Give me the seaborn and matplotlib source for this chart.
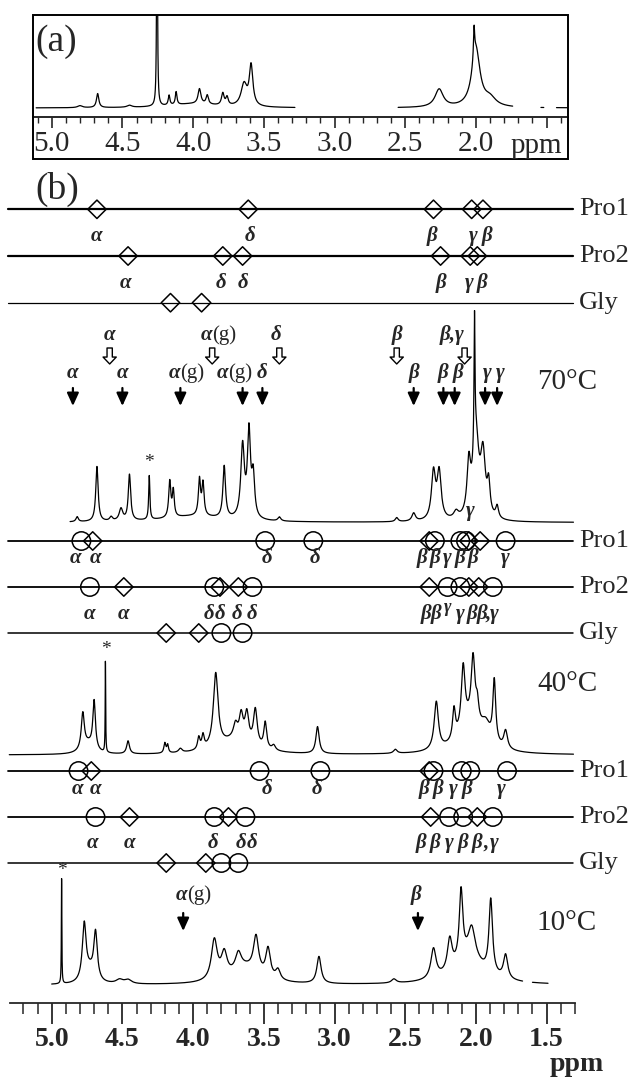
import numpy as np
import pandas as pd
import matplotlib
matplotlib.use("Agg")
import matplotlib.pyplot as plt
from matplotlib.patches import Rectangle
from matplotlib.ticker import FixedLocator, FixedFormatter, NullFormatter
import seaborn as sns

# peak tables: (ppm, height in px above baseline, half width in ppm)
peaks_a = [(4.80, 2, .02), (4.675, 14, .01), (4.45, 2, .02), (4.255, 300, .003),
           (4.17, 10, .007), (4.12, 13, .007), (4.0, 4, .2), (3.955, 15, .012),
           (3.90, 9, .01), (3.79, 12, .011), (3.76, 8, .01), (3.64, 22, .025),
           (3.59, 40, .015), (2.26, 18, .035), (2.00, 58, .035), (2.013, 30, .005),
           (1.90, 8, .05)]
peaks_70 = [(4.82, 5, .01), (4.68, 55, .010), (4.58, 4, .012), (4.51, 12, .015),
            (4.45, 46, .010), (4.31, 44, .005), (4.0, 6, .25), (4.165, 36, .009),
            (4.14, 26, .008), (3.955, 36, .009), (3.93, 32, .009), (3.78, 52, .011),
            (3.65, 72, .015), (3.605, 85, .013), (3.575, 40, .012), (3.39, 4, .012),
            (2.56, 4, .012), (2.44, 8, .015), (2.30, 47, .017), (2.26, 47, .017),
            (2.14, 7, .02), (2.05, 50, .015), (2.00, 80, .025), (2.01, 130, .004),
            (1.95, 60, .02), (1.91, 30, .012), (1.85, 12, .012)]
peaks_40 = [(4.74, 10, .05), (4.78, 36, .013), (4.70, 48, .011), (4.62, 92, .002),
            (4.46, 13, .012), (4.20, 10, .008), (4.18, 8, .007), (4.09, 4, .015),
            (3.70, 14, .15), (3.96, 12, .01), (3.93, 13, .01), (3.84, 74, .02),
            (3.70, 14, .018), (3.66, 24, .016), (3.62, 28, .016), (3.56, 36, .016),
            (3.49, 26, .012), (3.43, 5, .015), (3.12, 27, .014), (2.57, 4, .015),
            (2.04, 30, .10), (2.28, 48, .018), (2.155, 30, .012), (2.09, 62, .016),
            (2.02, 64, .016), (1.99, 18, .012), (1.93, 18, .04), (1.87, 62, .012),
            (1.79, 18, .016)]
peaks_10 = [(4.93, 105, .002), (4.73, 12, .04), (4.77, 56, .016), (4.69, 47, .015),
            (4.52, 4, .03), (4.46, 4, .03), (3.63, 16, .12), (3.85, 40, .025),
            (3.78, 24, .025), (3.68, 17, .025), (3.555, 36, .022), (3.47, 29, .02),
            (3.40, 10, .02), (3.11, 27, .018), (2.58, 4, .02), (2.05, 25, .13),
            (2.30, 30, .022), (2.185, 32, .02), (2.105, 70, .015), (2.03, 31, .03),
            (1.895, 74, .015), (1.79, 24, .018)]

# drawn extents of each trace (ppm)
range_a = [(5.11, 3.28), (2.55, 1.74), (1.54, 1.52), (1.43, 1.35)]
range_70 = [(4.87, 1.31)]
range_40 = [(5.30, 1.31)]
range_10 = [(5.00, 1.67), (1.60, 1.49)]

major_ticks = [5.0, 4.5, 4.0, 3.5, 3.0, 2.5, 2.0, 1.5]
major_labels = ["5.0", "4.5", "4.0", "3.5", "3.0", "2.5", "2.0", "1.5"]

# assignment rows: open diamonds / open circles (ppm)
top_pro1_dia = [4.68, 3.61, 2.30, 2.03, 1.95]
top_pro2_dia = [4.46, 3.79, 3.65, 2.25, 2.04, 1.99]
top_gly_dia = [4.16, 3.94]
top_pro1_lab = [(4.68, "α"), (3.60, "δ"), (2.31, "β"), (2.02, "γ"), (1.92, "β")]
top_pro2_lab = [(4.48, "α"), (3.80, "δ"), (3.65, "δ"), (2.25, "β"), (2.05, "γ"), (1.96, "β")]

t70_pro1_circ = [4.79, 3.49, 3.15, 2.29, 2.11, 2.07, 1.79]
t70_pro1_dia = [4.71, 2.33, 2.05, 1.97]
t70_pro2_circ = [4.73, 3.85, 3.58, 2.20, 2.11, 1.88]
t70_pro2_dia = [4.49, 3.81, 3.68, 2.33, 2.05, 1.98]
t70_gly_circ = [3.80, 3.65]
t70_gly_dia = [4.19, 3.96]
t70_pro1_lab = [(4.83, "α"), (4.69, "α"), (3.48, "δ"), (3.14, "δ"), (2.38, "β"), (2.29, "β"),
                (2.20, "γ"), (2.11, "β"), (2.02, "β"), (1.79, "γ")]
t70_pro2_lab = [(4.73, "α"), (4.49, "α"), (3.89, "δ"), (3.81, "δ"), (3.69, "δ"), (3.58, "δ"),
                (2.35, "β"), (2.28, "β"), (2.11, "γ"), (2.03, "β"), (1.96, "β"), (1.915, ","),
                (1.87, "γ")]

t40_pro1_circ = [4.81, 3.53, 3.10, 2.30, 2.10, 2.04, 1.78]
t40_pro1_dia = [4.72, 2.33]
t40_pro2_circ = [4.69, 3.85, 3.63, 2.19, 2.09, 1.88]
t40_pro2_dia = [4.45, 3.75, 2.32, 1.99]
t40_gly_circ = [3.80, 3.68]
t40_gly_dia = [4.19, 3.91]
t40_pro1_lab = [(4.82, "α"), (4.69, "α"), (3.48, "δ"), (3.12, "δ"), (2.37, "β"), (2.27, "β"),
                (2.16, "γ"), (2.06, "β"), (1.82, "γ")]
t40_pro2_lab = [(4.71, "α"), (4.45, "α"), (3.86, "δ"), (3.66, "δ"), (3.58, "δ"), (2.39, "β"),
                (2.29, "β"), (2.19, "γ"), (2.09, "β"), (1.99, "β"), (1.93, ","), (1.87, "γ")]

# arrows at 70 C (ppm) and their labels
open_arrows = [4.59, 3.865, 3.39, 2.56, 2.08]
open_lab = [(4.59, "α"), (3.41, "δ"), (2.56, "β"), (2.17, "β,γ")]
open_lab_g = [3.865]
full_arrows = [4.85, 4.50, 4.09, 3.65, 3.51, 2.44, 2.23, 2.15, 1.935, 1.85]
full_lab = [(4.85, "α"), (4.50, "α"), (3.51, "δ"), (2.44, "β"), (2.23, "β"), (2.13, "β"),
            (1.92, "γ"), (1.83, "γ")]
full_lab_g = [4.09, 3.75]
arrows_10 = [4.07, 2.41]

sns.set_style("white")
plt.rcParams["font.family"] = ["Liberation Serif", "DejaVu Serif"]

W, H = 635, 1079
fig = plt.figure(figsize=(W / 100, H / 100), dpi=100)


def spectrum(peaks, lo, hi):
    ppm = np.linspace(lo, hi, 6000)
    val = np.zeros_like(ppm)
    for p, h, w in peaks:
        val += h / (1 + ((ppm - p) / w) ** 2)
    return pd.DataFrame({"ppm": ppm, "I": val})


def draw_trace(ax, peaks, ranges, base):
    for lo, hi in ranges:
        df = spectrum(peaks, lo, hi)
        df["I"] += base
        sns.lineplot(data=df, x="ppm", y="I", ax=ax, color="black", lw=0.9,
                     sort=False, estimator=None)


def ppm_of(px):
    return 5.0 - (px - 51.7) / 141.4


# ---------------- panel (a) ----------------
axa = fig.add_axes([33 / W, 1 - 117 / H, 535 / W, 102 / H])
axa.set_facecolor("none")
draw_trace(axa, peaks_a, range_a, 9)
axa.set_xlim(ppm_of(33), ppm_of(568))
axa.set_ylim(0, 102)
for s in ["top", "left", "right"]:
    axa.spines[s].set_visible(False)
axa.spines["bottom"].set_linewidth(1.4)
axa.xaxis.set_major_locator(FixedLocator(major_ticks))
axa.xaxis.set_major_formatter(FixedFormatter(major_labels[:-1] + [""]))
axa.xaxis.set_minor_locator(FixedLocator([round(5.1 - 0.1 * i, 1) for i in range(38)]))
axa.xaxis.set_minor_formatter(NullFormatter())
axa.tick_params(axis="x", which="major", direction="out", length=8, width=1.2,
                labelsize=21, pad=2, bottom=True)
axa.tick_params(axis="x", which="minor", direction="out", length=4.5, width=1.0, bottom=True)
axa.set_yticks([])
axa.set_xlabel("")
axa.set_ylabel("")
fig.add_artist(Rectangle((33 / W, 1 - 159 / H), 535 / W, 144 / H, transform=fig.transFigure,
                         fill=False, lw=1.4, ec="black"))
fig.text(536 / W, 1 - 153 / H, "ppm", ha="center", va="baseline", fontsize=21)
fig.text(35 / W, 1 - 51 / H, "(a)", ha="left", va="baseline", fontsize=27)

# ---------------- panel (b) ----------------
axb = fig.add_axes([0, 76 / H, 1, 843 / H])
axb.set_facecolor("none")
axb.set_xlim(ppm_of(0), ppm_of(W))
axb.set_ylim(0, 843)
for s in ["top", "left", "right"]:
    axb.spines[s].set_visible(False)
axb.spines["bottom"].set_bounds(1.30, 5.295)
axb.spines["bottom"].set_linewidth(1.3)
axb.xaxis.set_major_locator(FixedLocator(major_ticks))
axb.xaxis.set_major_formatter(FixedFormatter(major_labels))
axb.xaxis.set_minor_locator(FixedLocator([round(5.2 - 0.1 * i, 1) for i in range(40)]))
axb.xaxis.set_minor_formatter(NullFormatter())
axb.tick_params(axis="x", which="major", direction="out", length=15, width=1.3,
                labelsize=20, pad=2, bottom=True)
axb.tick_params(axis="x", which="minor", direction="out", length=8, width=1.1, bottom=True)
for lab in axb.get_xticklabels():
    lab.set_fontweight("bold")
axb.set_yticks([])
fig.text(577 / W, 1 - 1071 / H, "ppm", ha="center", va="baseline", fontsize=20,
         fontweight="bold")
fig.text(35 / W, 1 - 199 / H, "(b)", ha="left", va="baseline", fontsize=27)

greek = dict(ha="center", va="baseline", fontsize=15, fontweight="bold", fontstyle="italic")
x_line = (5.31, 1.313)
x_name = ppm_of(579)
x_temp = ppm_of(567)


def draw_row(y, circ, dia, name, lw):
    axb.plot(x_line, [y, y], color="black", lw=lw, zorder=2)
    if circ:
        sns.scatterplot(x=circ, y=[y] * len(circ), marker="o", s=175, facecolor="none",
                        edgecolor="black", linewidth=1.1, ax=axb, zorder=3)
    if dia:
        sns.scatterplot(x=dia, y=[y] * len(dia), marker="D", s=88, facecolor="none",
                        edgecolor="black", linewidth=1.1, ax=axb, zorder=3)
    axb.text(x_name, y, name, ha="left", va="center", fontsize=19)


def draw_labels(y, items):
    for p, t in items:
        axb.text(p, y, t, **greek)


def alpha_g(x, y):
    axb.text(x, y, "α", ha="right", va="baseline", fontsize=15, fontweight="bold",
             fontstyle="italic")
    axb.text(x, y, "(g)", ha="left", va="baseline", fontsize=15)


def full_arrow(p, tail, tip):
    axb.annotate("", xy=(p, tip), xytext=(p, tail),
                 arrowprops=dict(arrowstyle="-|>,head_length=0.55,head_width=0.25",
                                 color="black", lw=1.6, shrinkA=0, shrinkB=0,
                                 mutation_scale=14))


def open_arrow(p, tail, tip):
    axb.annotate("", xy=(p, tip), xytext=(p, tail),
                 arrowprops=dict(arrowstyle="simple,head_length=0.5,head_width=0.95,tail_width=0.38",
                                 fc="white", ec="black", lw=1.0, shrinkA=0, shrinkB=0,
                                 mutation_scale=10))


# reference rows
draw_row(793.7, [], top_pro1_dia, "Pro1", 1.6)
draw_row(747.0, [], top_pro2_dia, "Pro2", 1.6)
draw_row(700.3, [], top_gly_dia, "Gly", 0.9)
draw_labels(762, top_pro1_lab)
draw_labels(715, top_pro2_lab)

# 70 C
draw_labels(663, open_lab)
for p in open_lab_g:
    alpha_g(p, 663)
for p in open_arrows:
    open_arrow(p, 655, 639)
draw_labels(625, full_lab)
for p in full_lab_g:
    alpha_g(p, 625)
for p in full_arrows:
    full_arrow(p, 615, 597)
axb.text(x_temp, 621, "70°C", ha="center", va="center", fontsize=21)
draw_trace(axb, peaks_70, range_70, 480.5)
axb.text(4.31, 532, "*", ha="center", va="bottom", fontsize=14)
axb.text(2.04, 487, "γ", **greek)
draw_row(462, t70_pro1_circ, t70_pro1_dia, "Pro1", 1.3)
draw_row(416, t70_pro2_circ, t70_pro2_dia, "Pro2", 1.3)
draw_row(370, t70_gly_circ, t70_gly_dia, "Gly", 1.1)
draw_labels(440, t70_pro1_lab)
draw_labels(384, t70_pro2_lab)
axb.text(2.20, 391, "γ", ha="center", va="baseline", fontsize=13, fontweight="bold",
         fontstyle="italic")

# 40 C
axb.text(x_temp, 319, "40°C", ha="center", va="center", fontsize=21)
draw_trace(axb, peaks_40, range_40, 248)
axb.text(4.62, 345, "*", ha="center", va="bottom", fontsize=14)
draw_row(232, t40_pro1_circ, t40_pro1_dia, "Pro1", 1.3)
draw_row(186, t40_pro2_circ, t40_pro2_dia, "Pro2", 1.3)
draw_row(140, t40_gly_circ, t40_gly_dia, "Gly", 1.1)
draw_labels(209, t40_pro1_lab)
draw_labels(155, t40_pro2_lab)

# 10 C
axb.text(x_temp, 80, "10°C", ha="center", va="center", fontsize=21)
draw_trace(axb, peaks_10, range_10, 18)
axb.text(4.93, 124, "*", ha="center", va="bottom", fontsize=14)
alpha_g(4.04, 103)
axb.text(2.42, 103, "β", **greek)
for p in arrows_10:
    full_arrow(p, 90, 72)

axb.set_xlabel("")
axb.set_ylabel("")
fig.savefig("out.png", dpi=100)
